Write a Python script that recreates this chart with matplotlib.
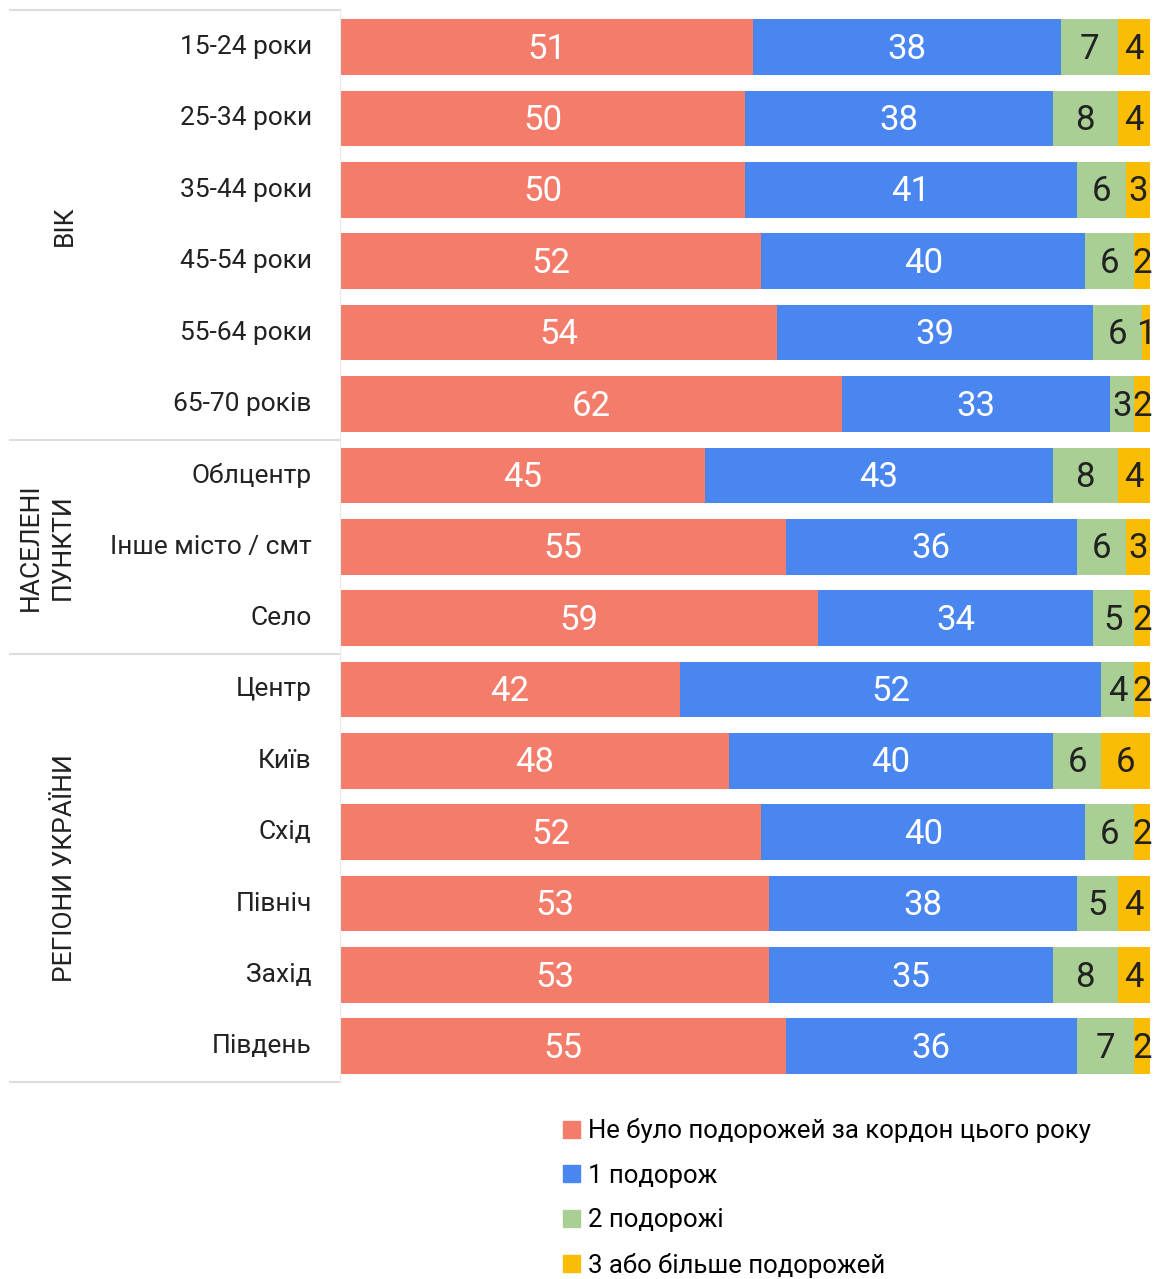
import matplotlib
matplotlib.use("Agg")
import matplotlib.pyplot as plt
import matplotlib.patches as mpatches
import matplotlib.transforms as mtransforms
import numpy as np

plt.rcParams['font.family'] = ['Roboto', 'DejaVu Sans']

# categories (top to bottom)
categories = ['15-24 роки', '25-34 роки', '35-44 роки', '45-54 роки', '55-64 роки', '65-70 років',
              'Облцентр', 'Інше місто / смт', 'Село',
              'Центр', 'Київ', 'Схід', 'Північ', 'Захід', 'Південь']
groups = ['ВІК', 'НАСЕЛЕНІ\nПУНКТИ', 'РЕГІОНИ УКРАЇНИ']
group_sizes = [6, 3, 6]

series_names = ['Не було подорожей за кордон цього року', '1 подорож', '2 подорожі', '3 або більше подорожей']
no_trips = [51, 50, 50, 52, 54, 62, 45, 55, 59, 42, 48, 52, 53, 53, 55]
one_trip = [38, 38, 41, 40, 39, 33, 43, 36, 34, 52, 40, 40, 38, 35, 36]
two_trips = [7, 8, 6, 6, 6, 3, 8, 6, 5, 4, 6, 6, 5, 8, 7]
three_plus = [4, 4, 3, 2, 1, 2, 4, 3, 2, 2, 6, 2, 4, 4, 2]

colors = ['#F47C6B', '#4A86F0', '#A9CF94', '#FBBC05']
text_colors = ['white', 'white', '#222222', '#222222']

fig = plt.figure(figsize=(11.56, 12.79), dpi=100)
ax = fig.add_axes([340 / 1156, 1 - 1082 / 1279, 810 / 1156, 1072 / 1279])

y = np.arange(len(categories))
left = np.zeros(len(categories))
for vals, col, tcol in zip([no_trips, one_trip, two_trips, three_plus], colors, text_colors):
    vals = np.array(vals)
    ax.barh(y, vals, left=left, height=0.78, color=col, edgecolor='none')
    for yi, (l, v) in enumerate(zip(left, vals)):
        ax.text(l + v / 2, yi + 0.03, str(v), ha='center', va='center', color=tcol, fontsize=25)
    left += vals

ax.set_xlim(0, 100)
ax.set_ylim(14.5, -0.52)
ax.set_xticks([])
ax.set_yticks([])
for s in ['top', 'right', 'bottom']:
    ax.spines[s].set_visible(False)
ax.spines['left'].set_color('#EAEAEA')

trans = mtransforms.blended_transform_factory(ax.transAxes, ax.transData)

# category labels
for yi, c in enumerate(categories):
    ax.text(-0.035, yi, c, transform=trans, ha='right', va='center', fontsize=19, color='#222222')

# group separators and labels
start = 0
seps = [-0.52]
for g, n in zip(groups, group_sizes):
    mid = start + (n - 1) / 2
    xg = -0.362 if '\n' in g else -0.34
    ax.text(xg, mid, g, transform=trans, rotation=90, ha='center', va='center',
            fontsize=19, color='#222222', linespacing=1.45, multialignment='center')
    start += n
    seps.append(start - 0.5)
for s in seps:
    ax.plot([-0.407, 0], [s, s], transform=trans, color='#DDDDDD', lw=1.5, clip_on=False)

# legend
handles = [mpatches.Patch(color=c, label=n) for c, n in zip(colors, series_names)]
fig.legend(handles=handles, loc='upper left', bbox_to_anchor=(553 / 1156, 1 - 1108 / 1279),
           frameon=False, fontsize=18.5, handlelength=0.65, handleheight=0.65, handletextpad=0.3,
           labelspacing=0.8, borderaxespad=0)

fig.savefig('out.png', dpi=100)
